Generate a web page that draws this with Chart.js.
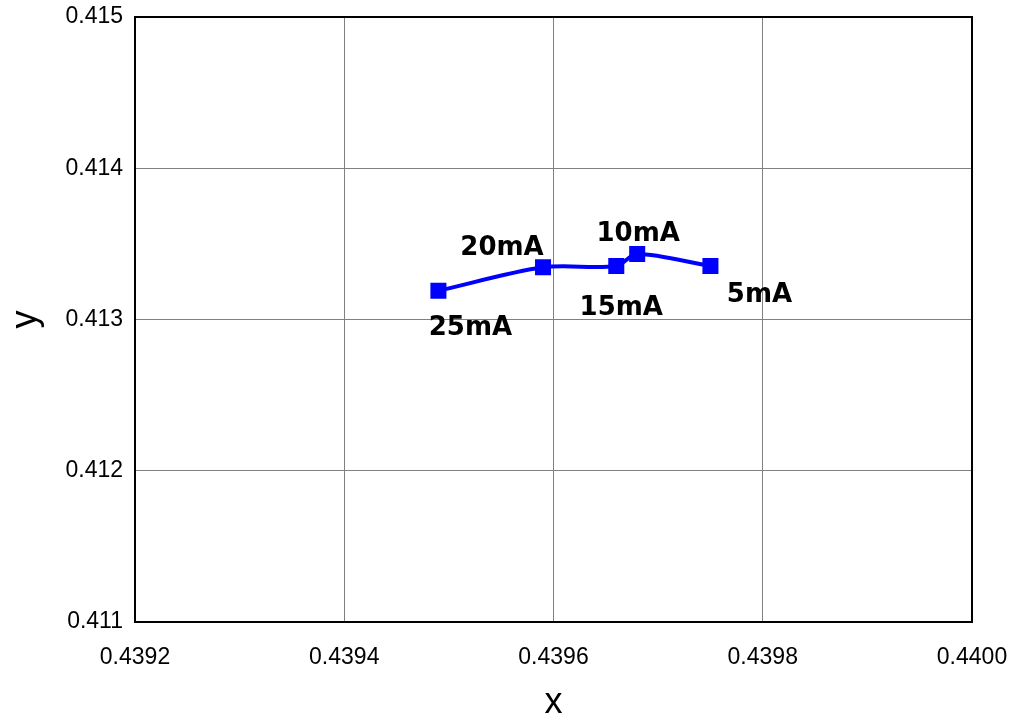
<!DOCTYPE html>
<html>
<head>
<meta charset="utf-8">
<script src="https://cdn.jsdelivr.net/npm/chart.js@4/dist/chart.umd.min.js"></script>
<style>
  html, body { margin: 0; padding: 0; background: #fff; }
  #wrap { width: 1015px; height: 721px; }
</style>
</head>
<body>
<div id="wrap"><canvas id="grafic"></canvas></div>
<script>
// valori
const etichete = ['25mA', '20mA', '15mA', '10mA', '5mA'];
const valoriX = [0.43949, 0.43959, 0.43966, 0.43968, 0.43975];
const valoriY = [0.41319, 0.413345, 0.413354, 0.413433, 0.413354];

const xMin = 0.4392, xMax = 0.4400, xPas = 0.0002;
const yMin = 0.411, yMax = 0.415, yPas = 0.001;

// deplasarea etichetelor fata de punct (px)
const deplasari = [[32, 37], [-41, -19], [5, 42], [1, -20], [49, 29]];

const puncte = valoriX.map((x, i) => ({ x, y: valoriY[i] }));

const etichetePuncte = {
  id: 'etichetePuncte',
  afterDatasetsDraw(chart) {
    const { ctx } = chart;
    const meta = chart.getDatasetMeta(0);
    ctx.save();
    ctx.font = 'bold 26px "DejaVu Sans", Verdana, sans-serif';
    ctx.fillStyle = '#000';
    ctx.textAlign = 'center';
    ctx.textBaseline = 'middle';
    meta.data.forEach((p, i) => {
      const [dx, dy] = deplasari[i];
      ctx.fillText(etichete[i], p.x + dx, p.y + dy);
    });
    ctx.restore();
  }
};

const chenar = {
  id: 'chenar',
  afterDraw(chart) {
    const { ctx, chartArea: a } = chart;
    ctx.save();
    ctx.strokeStyle = '#000';
    ctx.lineWidth = 2;
    ctx.strokeRect(a.left, a.top, a.right - a.left, a.bottom - a.top);
    ctx.restore();
  }
};

const fontTick = { family: '"Liberation Sans", Arial, sans-serif', size: 23 };
const fontTitlu = { family: '"Liberation Sans", Arial, sans-serif', size: 36 };

new Chart(document.getElementById('grafic'), {
  type: 'scatter',
  data: {
    datasets: [{
      data: puncte,
      showLine: true,
      tension: 0.3,
      borderColor: '#0000ff',
      backgroundColor: '#0000ff',
      borderWidth: 4,
      pointStyle: 'rect',
      pointRadius: 8.5,
      pointHoverRadius: 8.5
    }]
  },
  options: {
    responsive: true,
    maintainAspectRatio: false,
    animation: false,
    layout: { padding: { top: 17, right: 43, left: 0, bottom: 0 } },
    plugins: { legend: { display: false }, tooltip: { enabled: false } },
    scales: {
      x: {
        type: 'linear',
        min: xMin,
        max: xMax,
        afterFit: (s) => { s.height = 99; s.paddingLeft = 0; s.paddingRight = 0; },
        afterBuildTicks: (s) => {
          s.ticks = [];
          for (let i = 0; i <= Math.round((xMax - xMin) / xPas); i++) s.ticks.push({ value: xMin + i * xPas });
        },
        ticks: {
          color: '#000',
          font: fontTick,
          padding: 22,
          maxRotation: 0,
          callback: (v) => v.toFixed(4)
        },
        grid: { color: '#808080', lineWidth: 1, drawTicks: false },
        border: { display: false },
        title: { display: true, text: 'x', color: '#000', font: { ...fontTitlu, lineHeight: 1 }, padding: { top: 0, bottom: 0 } }
      },
      y: {
        type: 'linear',
        min: yMin,
        max: yMax,
        afterFit: (s) => { s.width = 135; s.paddingTop = 0; s.paddingBottom = 0; },
        afterBuildTicks: (s) => {
          s.ticks = [];
          for (let i = 0; i <= Math.round((yMax - yMin) / yPas); i++) s.ticks.push({ value: yMin + i * yPas });
        },
        ticks: {
          color: '#000',
          font: fontTick,
          padding: 12,
          callback: (v) => v.toFixed(3)
        },
        grid: { color: '#808080', lineWidth: 1, drawTicks: false },
        border: { display: false },
        title: { display: true, text: 'y', color: '#000', font: fontTitlu, padding: { top: 4, bottom: 0 } }
      }
    }
  },
  plugins: [etichetePuncte, chenar]
});
</script>
</body>
</html>
